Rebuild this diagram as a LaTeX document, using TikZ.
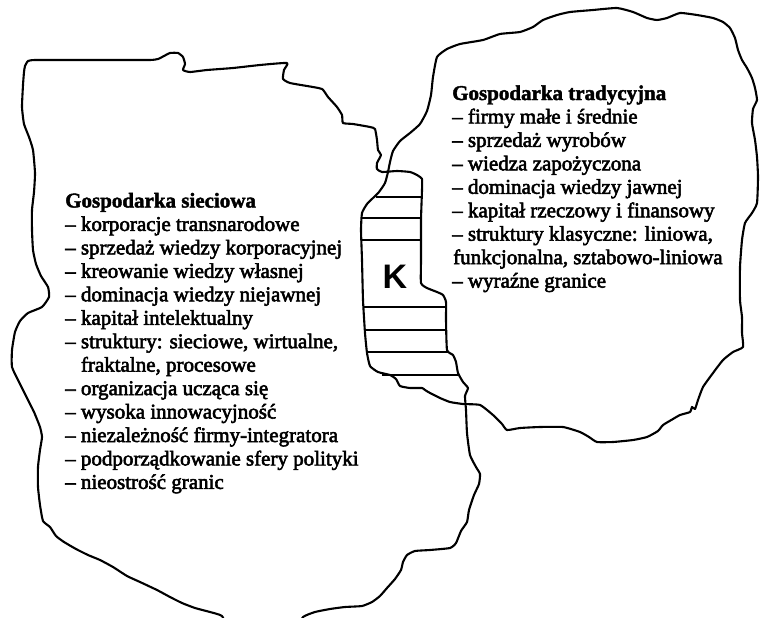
\documentclass[tikz,border=0pt]{standalone}
\usepackage{fontspec}
\setmainfont{Liberation Serif}
\newfontfamily\itemfont{Liberation Serif}[FakeBold=2.6]
\newfontfamily\headfont{Liberation Serif}[BoldFeatures={FakeBold=2}]
\newfontfamily\ksans{Liberation Sans}
\begin{document}
\begin{tikzpicture}[x=1pt,y=-1pt,
  outline/.style={line width=2.1pt,line join=round,line cap=round},
  hatch/.style={line width=1.6pt},
  txt/.style={anchor=base west,inner sep=0pt,font=\itemfont\fontsize{21}{23.5}\selectfont},
  hd/.style={anchor=base west,inner sep=0pt,font=\headfont\fontsize{21}{23.5}\selectfont\bfseries}]
\useasboundingbox (0,0) rectangle (760,618);
\clip (0,0) rectangle (760,618);
% left region
\draw[outline] plot[smooth cycle,tension=0.3] coordinates {
(25,66) (28,61) (35,60) (70,60) (110,60) (150,60) (158,59) (164,56) (170,53) (178,53) (183,57) (185,64) (183,70) (190,72) (207,70) (233,68) (260,65) (287,63) (284,70) (283,79) (290,83) (307,86) (322,89) (328,97) (337,107) (342,115) (343,123) (353,124) (370,127) (375,129) (377,140) (378,150) (381,155) (377,163) (377,169) (382,172) (397,171) (410,172) (417,175) (422,179) (422,190) (421,220) (421,260) (421,283) (427,288) (437,292) (443,295) (446,302) (446,320) (447,350) (453,355) (456,362) (458,373) (463,382) (468,388) (465,396) (466,410) (467,433) (470,455) (476,467) (480,474) (479,484) (474,495) (469,510) (467,522) (461,531) (456,543) (450,548) (430,550) (415,551) (407,555) (403,562) (401,570) (395,579) (387,588) (380,596) (372,602) (362,606) (345,607) (330,609) (315,612) (303,617) (295,630) (260,635) (230,630) (222,616) (210,612) (195,608) (182,603) (170,597) (157,590) (140,582) (127,576) (113,567) (100,560) (88,555) (76,549) (64,542) (56,536) (50,527) (43,521) (40,505) (38,487) (38,467) (40,450) (42,437) (40,427) (34,412) (27,398) (19,382) (12,367) (12,350) (15,332) (20,321) (28,313) (42,307) (49,297) (48,287) (41,276) (36,264) (33,250) (32,230) (32,210) (34,192) (35,173) (33,150) (29,137) (24,124) (22,107) (23,85) (24,72)};
% right region
\draw[outline] plot[smooth cycle,tension=0.3] coordinates {
(437,57) (447,49) (460,44) (483,40) (500,34) (520,32) (533,27) (543,20) (557,15) (570,12) (593,10) (617,8) (633,12) (647,18) (657,20) (667,18) (680,13) (697,15) (713,18) (723,22) (730,28) (735,38) (738,50) (742,60) (747,68) (752,78) (755,88) (757,100) (753,109) (752,123) (755,140) (757,157) (758,177) (757,203) (752,213) (745,223) (742,240) (740,267) (740,300) (742,317) (742,333) (743,347) (733,352) (723,360) (713,373) (703,387) (698,400) (695,409) (692,407) (690,412) (680,415) (673,419) (663,425) (658,431) (647,437) (633,440) (613,442) (597,442) (589,437) (580,432) (563,427) (540,427) (520,428) (507,430) (502,424) (493,415) (480,405) (463,404) (450,402) (440,398) (430,393) (425,390) (422,388) (410,388) (400,386) (396,379) (390,375) (378,372) (370,366) (367,353) (365,333) (363,300) (362,260) (361,230) (362,213) (367,204) (373,198) (379,192) (385,183) (388,172) (390,162) (393,151) (400,141) (410,133) (420,124) (427,111) (431,95) (433,77)};
% hatching of the common part
\coordinate (h1a) at (376,197); \coordinate (h1b) at (421,197);
\coordinate (h2a) at (362,218); \coordinate (h2b) at (422,218);
\coordinate (h3a) at (362,240); \coordinate (h3b) at (422,240);
\coordinate (h4a) at (363,307); \coordinate (h4b) at (446,307);
\coordinate (h5a) at (364,330); \coordinate (h5b) at (447,330);
\coordinate (h6a) at (366,352); \coordinate (h6b) at (448,352);
\coordinate (h7a) at (382,375); \coordinate (h7b) at (458,375);
\foreach \i in {1,2,3,5,6,7} \draw[hatch] (h\i a) -- (h\i b);
\draw[hatch,line width=2.3pt] (h4a) -- (h4b);
\node[inner sep=0pt,font=\ksans\bfseries\fontsize{34}{34}\selectfont] (K) at (395,277) {K};
% left text
\node[hd] (lh) at (65,207.5) {Gospodarka sieciowa};
\foreach \t [count=\i] in {{– korporacje transnarodowe},{– sprzedaż wiedzy korporacyjnej},{– kreowanie wiedzy własnej},{– dominacja wiedzy niejawnej},{– kapitał intelektualny},{– struktury: sieciowe, wirtualne,},{\phantom{– }fraktalne, procesowe},{– organizacja ucząca się},{– wysoka innowacyjność},{– niezależność firmy-integratora},{– podporządkowanie sfery polityki},{– nieostrość granic}}
  \node[txt] (l\i) at (65,{207.5+23.45*\i}) {\t};
% right text
\node[hd] (rh) at (452,100) {Gospodarka tradycyjna};
\foreach \t [count=\i] in {{– firmy małe i średnie},{– sprzedaż wyrobów},{– wiedza zapożyczona},{– dominacja wiedzy jawnej},{– kapitał rzeczowy i finansowy},{– struktury klasyczne: liniowa,},{\hspace{1pt}funkcjonalna, sztabowo-liniowa},{– wyraźne granice}}
  \node[txt] (r\i) at (452,{100+23.45*\i}) {\t};
\end{tikzpicture}
\end{document}
